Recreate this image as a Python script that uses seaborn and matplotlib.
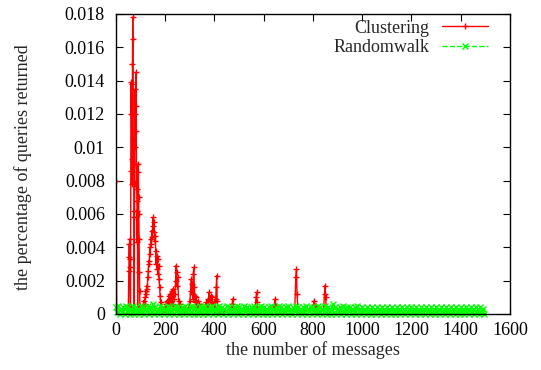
import matplotlib
matplotlib.use("Agg")
import matplotlib.pyplot as plt
import seaborn as sns
import pandas as pd

# ---- data ----
clust_x = [0, 3, 45, 50, 52, 53, 54, 55, 56, 57, 58, 59,
           60, 61, 62, 63, 64, 65, 66, 67, 68, 69, 70, 71, 72, 73, 74,
           75, 76, 77, 78, 79, 80, 81, 82, 83, 84, 85, 86, 87, 88, 89,
           90, 91, 92, 93, 94, 95, 96, 97, 100, 105,
           110, 113, 116, 119, 121, 123, 125, 127, 129, 131, 133, 135, 137,
           139, 141, 143, 145, 147, 149, 151, 153, 155, 157, 159, 161, 163,
           165, 167, 169, 171, 173, 175, 177, 179, 181, 184, 188, 195,
           203, 206, 209, 212, 215, 218, 221, 224, 227, 230, 233, 236, 239,
           242, 244, 246, 248, 251, 254, 258, 261, 264, 270,
           296, 300, 303, 306, 308, 310, 312, 314, 316, 318, 320, 322, 325,
           328, 331, 334, 337, 340, 344, 350,
           362, 366, 369, 372, 375, 378, 381, 384, 387, 390, 393, 396, 399,
           402, 405, 407, 409, 411, 414, 420,
           468, 472, 474, 476, 480,
           565, 569, 571, 573, 577,
           640, 644, 646, 648, 652,
           726, 730, 733, 735, 740,
           795, 799, 802, 805, 808, 811, 814, 818,
           843, 847, 849, 851, 856, 900]
clust_y = [0.0080, 0.0, 0.0, 0.0003, 0.0026, 0.0034, 0.0042, 0.0033, 0.0045, 0.0028, 0.0005, 0.0003,
           0.0086, 0.0139, 0.0120, 0.0138, 0.0093, 0.0120, 0.0078, 0.0150, 0.0178, 0.0165, 0.0092, 0.0105, 0.0080, 0.0062, 0.0004,
           0.0058, 0.0078, 0.0120, 0.0135, 0.0100, 0.0125, 0.0145, 0.0110, 0.0090, 0.0075, 0.0068, 0.0043, 0.0062, 0.0004, 0.0045,
           0.0090, 0.0085, 0.0070, 0.0060, 0.0045, 0.0025, 0.0014, 0.0005, 0.0002, 0.0,
           0.0005, 0.0008, 0.0006, 0.0010, 0.0014, 0.0012, 0.0017, 0.0015, 0.0022, 0.0026, 0.0032, 0.0030, 0.0040,
           0.0036, 0.0045, 0.0042, 0.0050, 0.0046, 0.0053, 0.0058, 0.0049, 0.0055, 0.0044, 0.0047, 0.0038, 0.0030,
           0.0035, 0.0027, 0.0033, 0.0024, 0.0029, 0.0021, 0.0016, 0.0011, 0.0007, 0.0004, 0.0002, 0.0,
           0.0006, 0.0008, 0.0004, 0.0007, 0.0011, 0.0005, 0.0012, 0.0008, 0.0014, 0.0006, 0.0015, 0.0009, 0.0012,
           0.0020, 0.0029, 0.0025, 0.0017, 0.0022, 0.0008, 0.0004, 0.0006, 0.0003, 0.0,
           0.0004, 0.0008, 0.0014, 0.0021, 0.0012, 0.0018, 0.0009, 0.0024, 0.0028, 0.0016, 0.0011, 0.0007, 0.0010,
           0.0005, 0.0008, 0.0004, 0.0006, 0.0003, 0.0005, 0.0,
           0.0004, 0.0007, 0.0005, 0.0009, 0.0006, 0.0013, 0.0008, 0.0011, 0.0006, 0.0010, 0.0004, 0.0007, 0.0005,
           0.0003, 0.0009, 0.0016, 0.0023, 0.0008, 0.0003, 0.0,
           0.0003, 0.0006, 0.0009, 0.0004, 0.0,
           0.0004, 0.0010, 0.0013, 0.0007, 0.0,
           0.0004, 0.0006, 0.0009, 0.0004, 0.0,
           0.0003, 0.0022, 0.0027, 0.0012, 0.0,
           0.0004, 0.0005, 0.0003, 0.0008, 0.0005, 0.0004, 0.0005, 0.0,
           0.0003, 0.0012, 0.0017, 0.0010, 0.0, 0.0]

# random walk sampled every 5 messages
walk_x = list(range(0, 1500, 5))
walk_y = [
    0.0004, 0.0001, 0.0005, 0.0000, 0.0003, 0.0001, 0.0004, 0.0000, 0.0005, 0.0002,
    0.0004, 0.0000, 0.0003, 0.0001, 0.0005, 0.0000, 0.0004, 0.0001, 0.0003, 0.0000,
    0.0005, 0.0001, 0.0004, 0.0000, 0.0003, 0.0002, 0.0005, 0.0000, 0.0004, 0.0001,
    0.0006, 0.0000, 0.0004, 0.0001, 0.0003, 0.0000, 0.0005, 0.0002, 0.0004, 0.0000,
    0.0003, 0.0001, 0.0005, 0.0000, 0.0004, 0.0001, 0.0003, 0.0000, 0.0005, 0.0002,
    0.0004, 0.0000, 0.0003, 0.0001, 0.0004, 0.0000, 0.0005, 0.0001, 0.0003, 0.0000,
    0.0004, 0.0001, 0.0005, 0.0000, 0.0004, 0.0002, 0.0003, 0.0000, 0.0005, 0.0001,
    0.0004, 0.0000, 0.0005, 0.0001, 0.0003, 0.0000, 0.0004, 0.0002, 0.0005, 0.0000,
    0.0003, 0.0001, 0.0004, 0.0000, 0.0005, 0.0001, 0.0004, 0.0000, 0.0003, 0.0002,
    0.0005, 0.0000, 0.0004, 0.0001, 0.0003, 0.0000, 0.0004, 0.0001, 0.0005, 0.0000,
    0.0004, 0.0001, 0.0003, 0.0000, 0.0005, 0.0002, 0.0004, 0.0000, 0.0003, 0.0001,
    0.0004, 0.0000, 0.0005, 0.0001, 0.0003, 0.0000, 0.0004, 0.0002, 0.0005, 0.0000,
    0.0004, 0.0001, 0.0003, 0.0000, 0.0004, 0.0001, 0.0005, 0.0000, 0.0003, 0.0002,
    0.0004, 0.0000, 0.0005, 0.0001, 0.0004, 0.0000, 0.0003, 0.0001, 0.0004, 0.0000,
    0.0005, 0.0001, 0.0003, 0.0000, 0.0004, 0.0002, 0.0005, 0.0000, 0.0004, 0.0001,
    0.0003, 0.0000, 0.0004, 0.0001, 0.0005, 0.0000, 0.0003, 0.0002, 0.0004, 0.0000,
    0.0004, 0.0001, 0.0003, 0.0000, 0.0005, 0.0001, 0.0004, 0.0000, 0.0003, 0.0001,
    0.0005, 0.0000, 0.0004, 0.0002, 0.0003, 0.0000, 0.0006, 0.0001, 0.0004, 0.0000,
    0.0003, 0.0001, 0.0004, 0.0000, 0.0005, 0.0001, 0.0003, 0.0000, 0.0004, 0.0002,
    0.0004, 0.0000, 0.0003, 0.0001, 0.0004, 0.0000, 0.0005, 0.0001, 0.0003, 0.0000,
    0.0004, 0.0001, 0.0003, 0.0000, 0.0004, 0.0001, 0.0003, 0.0000, 0.0004, 0.0001,
    0.0003, 0.0000, 0.0004, 0.0001, 0.0003, 0.0000, 0.0004, 0.0001, 0.0003, 0.0000,
    0.0004, 0.0001, 0.0003, 0.0000, 0.0004, 0.0001, 0.0003, 0.0000, 0.0004, 0.0001,
    0.0003, 0.0000, 0.0004, 0.0001, 0.0003, 0.0000, 0.0004, 0.0001, 0.0003, 0.0000,
    0.0004, 0.0001, 0.0003, 0.0000, 0.0004, 0.0001, 0.0003, 0.0000, 0.0004, 0.0001,
    0.0003, 0.0000, 0.0004, 0.0001, 0.0003, 0.0000, 0.0004, 0.0001, 0.0003, 0.0000,
    0.0004, 0.0001, 0.0003, 0.0000, 0.0004, 0.0001, 0.0003, 0.0000, 0.0004, 0.0001,
    0.0003, 0.0000, 0.0004, 0.0001, 0.0003, 0.0000, 0.0004, 0.0001, 0.0003, 0.0000,
    0.0004, 0.0001, 0.0003, 0.0000, 0.0004, 0.0001, 0.0003, 0.0000, 0.0004, 0.0001,
    0.0003, 0.0000, 0.0004, 0.0001, 0.0003, 0.0000, 0.0004, 0.0001, 0.0003, 0.0000,
]

x_ticks = [0, 200, 400, 600, 800, 1000, 1200, 1400, 1600]
y_ticks = [0, 0.002, 0.004, 0.006, 0.008, 0.01, 0.012, 0.014, 0.016, 0.018]
y_tick_labels = ["0", "0.002", "0.004", "0.006", "0.008", "0.01", "0.012", "0.014", "0.016", "0.018"]

clust = pd.DataFrame({"x": clust_x, "y": clust_y})
walk = pd.DataFrame({"x": walk_x, "y": walk_y})

# ---- style ----
sns.set_style("ticks")
plt.rcParams["font.family"] = ["Liberation Serif", "DejaVu Serif"]
fs = 13

fig = plt.figure(figsize=(5.41, 3.70), dpi=100)
ax = fig.add_axes([0.2144, 0.1514, 0.7283, 0.8108])

sns.lineplot(data=clust, x="x", y="y", ax=ax, color="#ff0000", lw=1.0,
             marker="+", markersize=5, markeredgewidth=1.0, mec="#ff0000",
             estimator=None, sort=False, label="Clustering")
sns.lineplot(data=walk, x="x", y="y", ax=ax, color="#00ff00", lw=1.0,
             linestyle="--", marker="x", markersize=4, markeredgewidth=1.0,
             mec="#00ff00", estimator=None, sort=False, label="Randomwalk",
             clip_on=False)

ax.set_xlim(0, 1600)
ax.set_ylim(0, 0.018)
ax.set_xticks(x_ticks)
ax.set_yticks(y_ticks)
ax.set_yticklabels(y_tick_labels)

for s in ax.spines.values():
    s.set_visible(True)
    s.set_color("black")
    s.set_linewidth(1.0)
    s.set_zorder(3)
ax.tick_params(direction="in", length=5, width=0.8, top=True, right=True,
               labelsize=fs, colors="black")
ax.tick_params(axis="y", pad=8)
ax.tick_params(axis="x", pad=6)

ax.set_xlabel("the number of messages", fontsize=fs)
ax.set_ylabel("the percentage of queries returned", fontsize=fs)
ax.xaxis.set_label_coords(0.5, -0.09)
ax.yaxis.set_label_coords(-0.212, 0.49)

leg = ax.legend(loc="upper right", bbox_to_anchor=(0.962, 1.005), borderaxespad=0,
                frameon=False, markerfirst=False, handlelength=2.55,
                handletextpad=0.67, labelspacing=0.12, fontsize=fs, numpoints=1)

fig.savefig("out.png", dpi=100)
